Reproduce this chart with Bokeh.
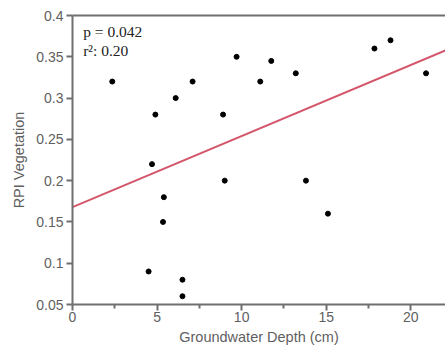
from bokeh.plotting import figure
from bokeh.models import Range1d, LinearAxis, Label, FixedTicker
from bokeh.embed import file_html
from bokeh.resources import INLINE

# Data
depth = [2.35, 4.9, 4.7, 5.4, 5.35, 4.5, 6.5, 6.5, 6.1, 7.1, 8.9, 9.0, 9.7,
         11.1, 11.75, 13.2, 13.8, 15.1, 17.85, 18.8, 20.9]
rpi = [0.32, 0.28, 0.22, 0.18, 0.15, 0.09, 0.08, 0.06, 0.30, 0.32, 0.28, 0.20, 0.35,
       0.32, 0.345, 0.33, 0.20, 0.16, 0.36, 0.37, 0.33]
fit_intercept = 0.168
fit_slope = 0.0086
fit_x = [0, 22.1]
x_ticks = [0, 5, 10, 15, 20]
y_ticks = [0.05, 0.1, 0.15, 0.2, 0.25, 0.3, 0.35, 0.4]
stat_lines = ["p = 0.042", "r\u00b2: 0.20"]

GRAY = "#6f6f6f"
LABEL = "#5f5f5f"

p = figure(width=445, height=347, output_backend="svg", toolbar_location=None,
           x_range=Range1d(0, 22.05), y_range=Range1d(0.05, 0.4),
           min_border_left=72, min_border_right=0, min_border_top=15, min_border_bottom=42)
p.outline_line_color = None
p.grid.visible = False
p.background_fill_color = "white"
p.border_fill_color = "white"

fit_y = [fit_intercept + fit_slope * x for x in fit_x]
p.line(fit_x, fit_y, line_color="#d4566a", line_width=2)
p.scatter(depth, rpi, size=5, color="black")

for ax in (p.xaxis[0], p.yaxis[0]):
    ax.axis_line_color = GRAY
    ax.axis_line_width = 2
    ax.major_tick_line_color = GRAY
    ax.major_tick_line_width = 2
    ax.major_tick_out = 6
    ax.major_tick_in = 0
    ax.major_label_text_color = LABEL
    ax.major_label_text_font = "Liberation Sans"
    ax.major_label_text_font_size = "14px"
    ax.axis_label_text_color = LABEL
    ax.axis_label_text_font = "Liberation Sans"
    ax.axis_label_text_font_size = "14.5px"
    ax.axis_label_text_font_style = "normal"

p.xaxis[0].ticker = FixedTicker(ticks=x_ticks, minor_ticks=[2.5, 7.5, 12.5, 17.5])
p.xaxis[0].minor_tick_line_color = GRAY
p.xaxis[0].minor_tick_line_width = 2
p.xaxis[0].minor_tick_out = 4
p.xaxis[0].minor_tick_in = 0
p.xaxis[0].major_label_standoff = 1
p.xaxis[0].axis_label = "Groundwater Depth (cm)"
p.xaxis[0].axis_label_standoff = 4

p.yaxis[0].ticker = FixedTicker(ticks=y_ticks)
p.yaxis[0].minor_tick_line_color = None
p.yaxis[0].major_label_standoff = 3
p.yaxis[0].axis_label = "RPI Vegetation"
p.yaxis[0].axis_label_standoff = 6

top = LinearAxis(axis_line_color=GRAY, axis_line_width=2, major_tick_line_color=None,
                 minor_tick_line_color=None, major_label_text_font_size="0px",
                 major_label_text_color=None)
p.add_layout(top, "above")

p.add_layout(Label(x=0.63, y=0.3807, text=stat_lines[0], text_font="Liberation Serif",
                   text_font_size="15.5px", text_color="#222222", text_baseline="alphabetic"))
p.add_layout(Label(x=0.63, y=0.3578, text=stat_lines[1], text_font="Liberation Serif",
                   text_font_size="15.5px", text_color="#222222", text_baseline="alphabetic"))

open("out.html", "w").write(file_html(p, INLINE))
